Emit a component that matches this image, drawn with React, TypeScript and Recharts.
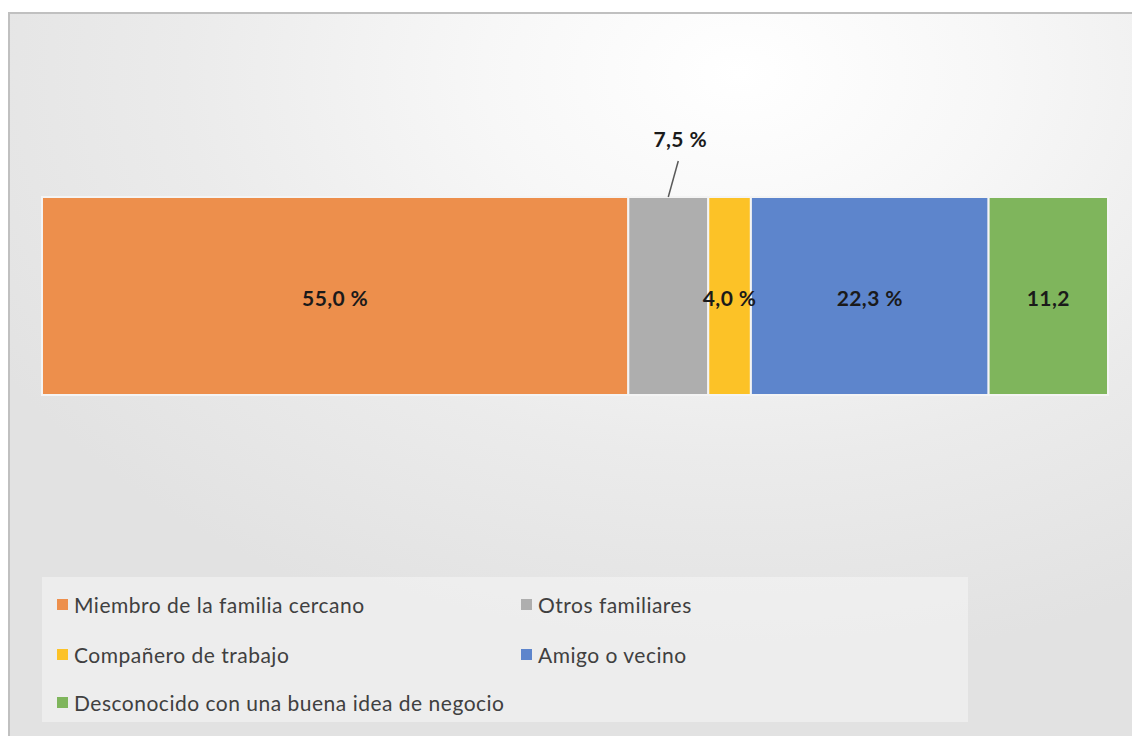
import React from 'react'
import { BarChart, Bar, XAxis, YAxis, LabelList, Legend } from 'recharts'

const categories = ['Total']
const seriesNames = [
  'Miembro de la familia cercano',
  'Otros familiares',
  'Compañero de trabajo',
  'Amigo o vecino',
  'Desconocido con una buena idea de negocio',
]
const seriesKeys = ['familia', 'otros', 'companero', 'amigo', 'desconocido']
const seriesValues = [55.0, 7.5, 4.0, 22.3, 11.2]
const labelTexts = ['55,0 %', '7,5 %', '4,0 %', '22,3 %', '11,2']
const colors = ['#ed8f4c', '#aeaeae', '#fcc227', '#5d85cc', '#7fb55c']

const chartData = categories.map((name) => {
  const row: Record<string, string | number> = { name }
  seriesKeys.forEach((k, i) => {
    row[k] = seriesValues[i]
  })
  return row
})

const FONT = 'Lato, "Open Sans", sans-serif'

function makeLabel(index: number) {
  return (props: any) => {
    const { x, y, width, height } = props
    const cx = x + width / 2
    const cy = y + height / 2
    const textProps = {
      textAnchor: 'middle' as const,
      fontFamily: FONT,
      fontWeight: 700,
      fontSize: 21,
      letterSpacing: 0.4,
      fill: '#1a1a1a',
    }
    if (index === 1) {
      return (
        <g>
          <line x1={cx} y1={y} x2={cx + 10} y2={y - 36} stroke="#595959" strokeWidth={1.5} />
          <text x={cx + 12} y={y - 50} {...textProps}>
            {labelTexts[index]}
          </text>
        </g>
      )
    }
    return (
      <text x={cx} y={cy + 10} {...textProps}>
        {labelTexts[index]}
      </text>
    )
  }
}

const legendPos = [
  { left: 57, top: 593 },
  { left: 521, top: 593 },
  { left: 57, top: 643 },
  { left: 521, top: 643 },
  { left: 57, top: 691 },
]

function LegendBox() {
  return (
    <div
      style={{
        position: 'absolute',
        left: 42,
        top: 577,
        width: 926,
        height: 145,
        background: 'rgba(245,245,245,0.55)',
      }}
    >
      {seriesNames.map((n, i) => (
        <div
          key={n}
          style={{
            position: 'absolute',
            left: legendPos[i].left - 42,
            top: legendPos[i].top - 577,
            display: 'flex',
            alignItems: 'center',
            fontFamily: FONT,
            fontSize: 21,
            letterSpacing: 0.5,
            color: '#404040',
            whiteSpace: 'nowrap',
            height: 22,
          }}
        >
          <span
            style={{
              display: 'inline-block',
              width: 11,
              height: 11,
              background: colors[i],
              marginRight: 6,
            }}
          />
          {n}
        </div>
      ))}
    </div>
  )
}

export default function App() {
  return (
    <div style={{ position: 'absolute', left: 0, top: 0, width: 1132, height: 736, overflow: 'hidden', background: '#ffffff' }}>
      <div
        style={{
          position: 'absolute',
          left: 8,
          top: 12,
          width: 1140,
          height: 740,
          borderTop: '2px solid #c0c0c0',
          borderLeft: '2px solid #c0c0c0',
          background:
            'radial-gradient(ellipse 75% 80% at 64% 8%, #ffffff 0%, #f7f7f7 30%, #ebebeb 65%, #e2e2e2 100%)',
        }}
      />
      <div style={{ position: 'absolute', left: 0, top: 0 }}>
        <BarChart
          width={1132}
          height={736}
          data={chartData}
          layout="vertical"
          margin={{ top: 197, right: 24, bottom: 341, left: 42 }}
          barCategoryGap={0}
        >
          <XAxis type="number" domain={[0, 100]} hide />
          <YAxis type="category" dataKey="name" hide />
          {seriesKeys.map((k, i) => (
            <Bar
              key={k}
              dataKey={k}
              name={seriesNames[i]}
              stackId="a"
              fill={colors[i]}
              stroke="#f4f4f4"
              strokeWidth={2}
              isAnimationActive={false}
            >
              <LabelList dataKey={k} content={makeLabel(i)} />
            </Bar>
          ))}
          <Legend content={() => null} />
        </BarChart>
      </div>
      <LegendBox />
    </div>
  )
}
